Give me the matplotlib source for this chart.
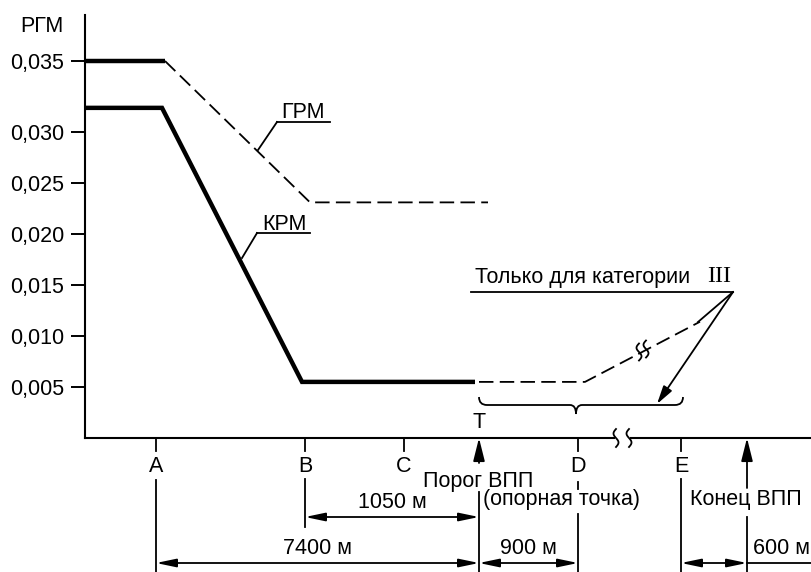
import numpy as np
import matplotlib
matplotlib.use("Agg")
import matplotlib.pyplot as plt
from matplotlib.path import Path
from matplotlib.patches import PathPatch, FancyArrowPatch

plt.rcParams['font.family'] = ['Liberation Sans', 'DejaVu Sans']

# ---- данные (схема, не в масштабе) ----
# положения точек по оси (схематические)
pt_names = ['A', 'B', 'C', 'T', 'D', 'E']
pt_x = [156, 305, 404, 479, 578, 681]
end_x = 747          # конец ВПП
axis_x0 = 85

rgm_ticks = [0.005, 0.010, 0.015, 0.020, 0.025, 0.030, 0.035]

# ГРМ
grm_x = [85, 165, 310, 488]
grm_y = [0.035, 0.035, 0.0231, 0.0231]
# КРМ
krm_x = [85, 162, 302, 475]
krm_y = [0.0317, 0.0317, 0.0055, 0.0055]
# только для категории III
cat3_x = [479, 585, 700]
cat3_y = [0.0055, 0.0055, 0.0114]

# размеры
dims = [('1050 м', 305, 479, 517), ('7400 м', 156, 479, 563),
        ('900 м', 479, 578, 563), ('600 м', 681, 747, 563)]

W, H = 811, 572
fig = plt.figure(figsize=(W / 100, H / 100), dpi=100)

# подложка в пикселях для подписей
ov = fig.add_axes([0, 0, 1, 1])
ov.set_xlim(0, W)
ov.set_ylim(H, 0)
ov.axis('off')

# основная ось: шкала неравномерная выше 0,030
k = 1.392
def fwd(v):
    v = np.asarray(v, dtype=float)
    return np.where(v <= 0.03, v, 0.03 + (v - 0.03) * k)
def inv(u):
    u = np.asarray(u, dtype=float)
    return np.where(u <= 0.03, u, 0.03 + (u - 0.03) / k)

top_px, bot_px = 15, 438
ax = fig.add_axes([axis_x0 / W, (H - bot_px) / H, (W - axis_x0) / W, (bot_px - top_px) / H])
ax.set_yscale('function', functions=(fwd, inv))
ax.set_xlim(axis_x0, W)
ax.set_ylim(0, 0.03 + (0.01147) / k)
ax.patch.set_alpha(0)
for s in ['top', 'right', 'bottom']:
    ax.spines[s].set_visible(False)
ax.spines['left'].set_linewidth(1.5)
ax.set_xticks([])
ax.set_yticks(rgm_ticks)
ax.set_yticklabels([f"{v:.3f}".replace('.', ',') for v in rgm_ticks])
ax.tick_params(axis='y', length=10, width=1.4, labelsize=15.5, pad=5)
ax.yaxis.set_minor_locator(matplotlib.ticker.NullLocator())

fs = 15.5
lw_thick = 3.2
lw_thin = 1.3
dash = (0, (8, 3.5))

# линии
ax.plot(grm_x[:2], grm_y[:2], color='black', lw=lw_thick, solid_capstyle='butt', clip_on=False)
ax.plot(grm_x[1:], grm_y[1:], color='black', lw=lw_thin, ls=dash)
ax.plot(krm_x, krm_y, color='black', lw=lw_thick, solid_capstyle='butt', solid_joinstyle='miter', clip_on=False)
ax.plot(cat3_x, cat3_y, color='black', lw=lw_thin, ls=dash)

ov.text(42, 26, 'РГМ', fontsize=fs, ha='center', va='center')

# подписи ГРМ / КРМ с выносками
def leader(text, tx, ty, x0, x1, uy, lx, ly):
    ov.text(tx, ty, text, fontsize=fs, ha='center', va='center')
    ov.plot([x0, x1], [uy, uy], color='black', lw=lw_thin)
    ov.plot([x0, lx], [uy, ly], color='black', lw=lw_thin)

leader('ГРМ', 303, 112, 277, 330, 122, 258, 150)
leader('КРМ', 284, 224, 257, 310, 233, 242, 258)

# Только для категории III
ov.text(475, 278, 'Только для категории', fontsize=fs, ha='left', va='center')
ov.text(707, 277, 'III', fontsize=17.5, ha='left', va='center', family='Liberation Serif')
ov.plot([471, 733], [292, 292], color='black', lw=lw_thin)
ov.plot([733, 698], [292, 322], color='black', lw=lw_thin)
ov.add_patch(FancyArrowPatch((733, 292), (657, 404), arrowstyle='-|>,head_length=1.1,head_width=0.3',
                             mutation_scale=10, color='black', lw=lw_thin, shrinkA=0, shrinkB=0))

# разрыв на штриховой линии
def squiggle(x0, yc, h, a=2.5):
    t = np.linspace(-0.5, 0.5, 40)
    ov.plot(x0 + a * np.sin(2 * np.pi * t), yc + h * t, color='black', lw=lw_thin)

squiggle(639, 352, 17)
squiggle(646, 349, 17)

# фигурная скобка
bx0, bx1, bmid, by = 479, 683, 576, 405
verts = [(bx0, 397), (bx0, by), (bx0 + 8, by),
         (bmid - 6, by),
         (bmid, by), (bmid, 414),
         (bmid, by), (bmid + 6, by),
         (bx1 - 8, by),
         (bx1, by), (bx1, 397)]
codes = [Path.MOVETO, Path.CURVE3, Path.CURVE3, Path.LINETO,
         Path.CURVE3, Path.CURVE3, Path.CURVE3, Path.CURVE3,
         Path.LINETO, Path.CURVE3, Path.CURVE3]
ov.add_patch(PathPatch(Path(verts, codes), fill=False, lw=lw_thin, color='black'))

# ось абсцисс с разрывом
ov.plot([axis_x0, 614], [bot_px, bot_px], color='black', lw=1.5)
ov.plot([631, W], [bot_px, bot_px], color='black', lw=1.5)
squiggle(616, bot_px, 18)
squiggle(629, bot_px, 18)

def vline(x, y0, y1, **kw):
    ov.plot([x, x], [y0, y1], color='black', lw=lw_thin, **kw)

# точки A..E
for name, x in zip(pt_names, pt_x):
    if name == 'T':
        ov.text(x, 423, 'T', fontsize=fs, ha='center', va='center')
        continue
    vline(x, bot_px, 451)
    ov.text(x, 467, name, fontsize=fs, ha='center', va='center')

xA, xB, xC, xT, xD, xE = pt_x
vline(xA, 480, H)
vline(xB, 479, 527)
vline(xD, 482, 489)
vline(xD, 514, H)
vline(xE, 479, H)
vline(xT, 492, H)
vline(end_x, 517, H)

def up_arrow(x, y0):
    ov.add_patch(FancyArrowPatch((x, y0), (x, bot_px), arrowstyle='-|>,head_length=1.4,head_width=0.35',
                                 mutation_scale=10, color='black', lw=lw_thin, shrinkA=0, shrinkB=0))

up_arrow(xT, 463)
up_arrow(end_x, 488)

ov.text(423, 481, 'Порог ВПП', fontsize=fs, ha='left', va='center')
ov.text(483, 500, '(опорная точка)', fontsize=fs, ha='left', va='center')
ov.text(690, 499, 'Конец ВПП', fontsize=fs, ha='left', va='center')

# размерные линии
for label, x0, x1, y in dims:
    ov.add_patch(FancyArrowPatch((x0, y), (x1, y), arrowstyle='<|-|>,head_length=1.2,head_width=0.25',
                                 mutation_scale=10, color='black', lw=lw_thin, shrinkA=0, shrinkB=0))
    if label == '600 м':
        ov.text(x1 + 6, y - 15, label, fontsize=fs, ha='left', va='center')
    else:
        ov.text((x0 + x1) / 2, y - 15, label, fontsize=fs, ha='center', va='center')
ov.plot([end_x, W], [563, 563], color='black', lw=lw_thin)

fig.savefig('out.png', dpi=100)
